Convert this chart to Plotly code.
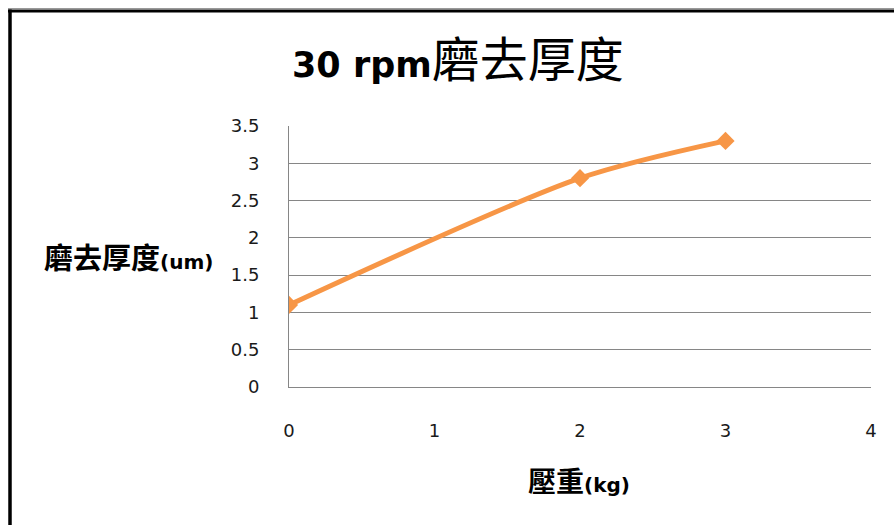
import plotly.graph_objects as go

# Data
load_kg = [0, 2, 3]
thickness_um = [1.1, 2.8, 3.3]
x_ticks = [0, 1, 2, 3, 4]
y_ticks = [0, 0.5, 1, 1.5, 2, 2.5, 3, 3.5]
y_tick_labels = ["0", "0.5", "1", "1.5", "2", "2.5", "3", "3.5"]

W, H = 894, 525
L, R, T, B = 289, 23, 126, 138
PW, PH = W - L - R, H - T - B


def px(p):
    return (p - L) / PW


def py(p):
    return (H - B - p) / PH


LATIN = "'DejaVu Sans', sans-serif"
COLOR = "#F79646"
GRID = "#868686"

fig = go.Figure()
fig.add_trace(go.Scatter(
    x=load_kg, y=thickness_um,
    mode="lines+markers",
    line=dict(color=COLOR, width=5, shape="spline", smoothing=0.8),
    marker=dict(symbol="diamond", size=14, color=COLOR),
    showlegend=False,
))

fig.update_layout(
    width=W, height=H,
    margin=dict(l=L, r=R, t=T, b=B),
    paper_bgcolor="white",
    plot_bgcolor="white",
    showlegend=False,
    xaxis=dict(
        range=[0, 4], tickvals=x_ticks, ticktext=[str(v) for v in x_ticks],
        showgrid=False, zeroline=False, showline=True, linecolor=GRID, linewidth=1,
        ticks="", ticklabelstandoff=27,
        tickfont=dict(family=LATIN, size=18, color="#1a1a1a"),
        fixedrange=True,
    ),
    yaxis=dict(
        range=[0, 3.5], tickvals=y_ticks, ticktext=y_tick_labels,
        showgrid=True, gridcolor=GRID, gridwidth=1,
        zeroline=False, showline=True, linecolor=GRID, linewidth=1,
        ticks="", ticklabelstandoff=25,
        tickfont=dict(family=LATIN, size=18, color="#1a1a1a"),
        fixedrange=True,
    ),
)

annotations = [
    dict(
        text=("<b><span style='font-family:DejaVu Sans;font-size:35px'>30 rpm</span></b>"
              "<span style='font-family:Noto Sans CJK TC;font-size:48px'>磨去厚度</span>"),
        x=px(458), y=py(56), xref="paper", yref="paper",
        xanchor="center", yanchor="middle", showarrow=False,
        font=dict(family=LATIN, size=35, color="black"),
    ),
    dict(
        text=("<b><span style='font-family:Noto Sans CJK TC;font-size:29px'>磨去厚度</span>"
              "<span style='font-family:DejaVu Sans;font-size:20px'>(um)</span></b>"),
        x=px(128), y=py(256), xref="paper", yref="paper",
        xanchor="center", yanchor="middle", showarrow=False,
        font=dict(family=LATIN, size=20, color="black"),
    ),
    dict(
        text=("<b><span style='font-family:Noto Sans CJK TC;font-size:28px'>壓重</span>"
              "<span style='font-family:DejaVu Sans;font-size:20px'>(kg)</span></b>"),
        x=px(579), y=py(480), xref="paper", yref="paper",
        xanchor="center", yanchor="middle", showarrow=False,
        font=dict(family=LATIN, size=20, color="black"),
    ),
]
fig.update_layout(annotations=annotations)

shapes = [
    dict(type="line", xref="paper", yref="paper",
         x0=px(8), x1=px(900), y0=py(8.5), y1=py(8.5),
         line=dict(color="#999999", width=1)),
    dict(type="line", xref="paper", yref="paper",
         x0=px(8), x1=px(900), y0=py(11), y1=py(11),
         line=dict(color="black", width=3)),
    dict(type="line", xref="paper", yref="paper",
         x0=px(10), x1=px(10), y0=py(9.5), y1=py(530),
         line=dict(color="black", width=3.5)),
]
fig.update_layout(shapes=shapes)

fig.write_html("out.html")
